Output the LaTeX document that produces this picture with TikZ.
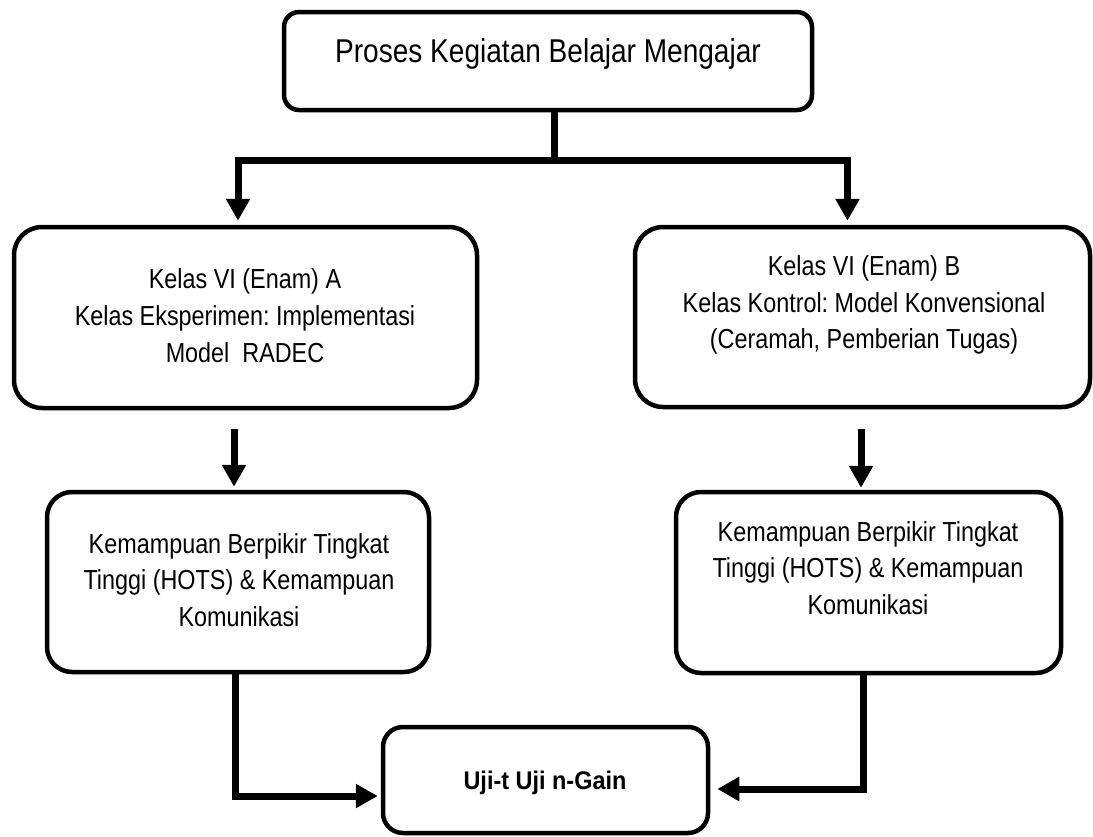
\documentclass[tikz,border=0pt]{standalone}
\usepackage{fontspec}
\setmainfont{Liberation Sans}[FakeStretch=0.85]
\newfontfamily\boldnarrow{Liberation Sans}[FakeStretch=0.92]
\usetikzlibrary{arrows.meta}
\frenchspacing
\begin{document}
\begin{tikzpicture}[x=1pt,y=-1pt,
  box/.style={draw, line width=4.5pt, rectangle, inner sep=0pt},
  txt/.style={align=center, inner sep=0pt, font=\frenchspacing\fontsize{27.5}{36.5}\selectfont},
  conn/.style={line width=7pt},
  arr/.style={line width=7pt, -{Triangle[length=22pt,width=23pt]}},
]
\useasboundingbox (0,0) rectangle (1093,836);

% boxes
\node[box, rounded corners=15pt, minimum width=528pt, minimum height=98pt] (t) at (548,61) {};
\node[box, rounded corners=28pt, minimum width=463pt, minimum height=181pt] (a) at (245.5,317.5) {};
\node[box, rounded corners=28pt, minimum width=455pt, minimum height=180pt] (b) at (862.5,317) {};
\node[box, rounded corners=25pt, minimum width=382pt, minimum height=180pt] (c) at (238,582) {};
\node[box, rounded corners=25pt, minimum width=385pt, minimum height=181pt] (d) at (868.5,582.5) {};
\node[box, rounded corners=20pt, minimum width=325pt, minimum height=106pt] (e) at (545.5,780) {};

% texts
\node[txt, font=\fontsize{33}{38}\selectfont] (tt) at (548,54) {Proses Kegiatan Belajar Mengajar};
\node[txt, font=\fontsize{27.5}{37}\selectfont] (at) at (245,316) {Kelas VI (Enam) A\\Kelas Eksperimen: Implementasi\\Model~~RADEC};
\node[txt] (bt) at (864,305) {Kelas VI (Enam) B\\Kelas Kontrol: Model Konvensional\\(Ceramah, Pemberian Tugas)};
\node[txt] (ct) at (239,580) {Kemampuan Berpikir Tingkat\\Tinggi (HOTS) \& Kemampuan\\Komunikasi};
\node[txt] (dt) at (868,568) {Kemampuan Berpikir Tingkat\\Tinggi (HOTS) \& Kemampuan\\Komunikasi};
\node[txt, font=\boldnarrow\bfseries\fontsize{25.5}{30}\selectfont] (et) at (545,783) {Uji-t Uji n-Gain};

% connectors
\coordinate (j) at (554,160);
\draw[conn] (t.south -| j) -- (j);
\draw[arr, shorten >=4pt] (j) -| ([xshift=-7.5pt]a.north);
\draw[arr, shorten >=4pt] (j) -| ([xshift=-15pt]b.north);
\draw[arr, shorten >=3pt] ([xshift=-11.5pt,yshift=-19pt]a.south) -- ([xshift=-11.5pt]a.south |- c.north);
\draw[arr, shorten >=2pt] ([xshift=-1.5pt,yshift=-20pt]b.south) -- ([xshift=-1.5pt]b.south |- d.north);
\draw[arr, shorten >=3pt] ([xshift=-3pt]c.south) |- ([yshift=-16pt]e.west);
\draw[arr] ([xshift=-5.5pt]d.south) |- ([xshift=7pt,yshift=-9pt]e.east);
\end{tikzpicture}
\end{document}
